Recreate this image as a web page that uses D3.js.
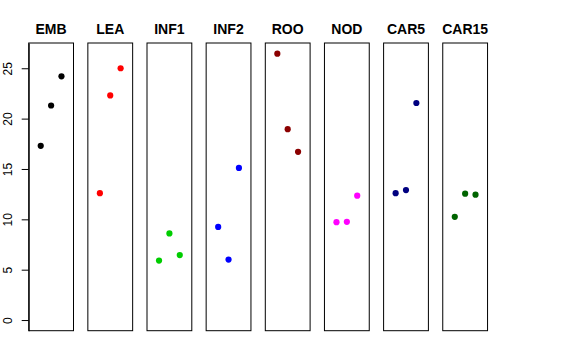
<!DOCTYPE html>
<html>
<head>
<meta charset="utf-8">
<script src="https://cdn.jsdelivr.net/npm/d3@7"></script>
<style>
html,body{margin:0;padding:0;background:#fff;}
svg{display:block;}
</style>
</head>
<body>
<svg id="chart" width="576" height="360"></svg>
<script>
const categories = ["EMB","LEA","INF1","INF2","ROO","NOD","CAR5","CAR15"];
const colors = ["#000000","#FF0000","#00CD00","#0000FF","#8B0000","#FF00FF","#000080","#006400"];
const EMB   = [17.3, 21.3, 24.2];
const LEA   = [12.6, 22.3, 25.0];
const INF1  = [5.9, 8.6, 6.45];
const INF2  = [9.25, 6.0, 15.1];
const ROO   = [26.45, 18.95, 16.7];
const NOD   = [9.72, 9.75, 12.35];
const CAR5  = [12.6, 12.9, 21.55];
const CAR15 = [10.25, 12.55, 12.45];
const seriesValues = [EMB, LEA, INF1, INF2, ROO, NOD, CAR5, CAR15];
const yTicks = [0, 5, 10, 15, 20, 25];

(function(){
const svg = d3.select("#chart");
const plotTop = 43, plotBottom = 330.7;
const panelW = 44.8, firstLeft = 28.7, step = 59.15;
const ymax = d3.max(seriesValues.flat());
const pad = ymax * 0.04;
const y = d3.scaleLinear().domain([0 - pad, ymax + pad]).range([plotBottom, plotTop]);
const x = d3.scaleLinear().domain([-0.16, 4.16]).range([0, panelW]);

categories.forEach((cat, i) => {
  const left = firstLeft + i * step;
  const g = svg.append("g").attr("transform", `translate(${left},0)`);
  g.append("rect").attr("x", 0).attr("y", plotTop).attr("width", panelW).attr("height", plotBottom - plotTop)
    .attr("fill", "none").attr("stroke", "#000").attr("stroke-width", 1);
  g.append("text").attr("x", panelW / 2).attr("y", 34.3).attr("text-anchor", "middle")
    .attr("font-family", "Liberation Sans, Arial, sans-serif").attr("font-weight", "bold")
    .attr("font-size", 14).text(cat);
  g.selectAll("circle").data(seriesValues[i]).enter().append("circle")
    .attr("cx", (d, j) => x(j + 1)).attr("cy", d => y(d)).attr("r", 3.1)
    .attr("fill", colors[i]);
});

const axisG = svg.append("g").attr("transform", `translate(${firstLeft},0)`);
const axis = d3.axisLeft(y).tickValues(yTicks).tickSize(7).tickSizeOuter(0).tickFormat(d3.format("d"));
axisG.call(axis);
axisG.select(".domain").attr("stroke", "#000");
axisG.selectAll(".tick line").attr("stroke", "#000");
axisG.selectAll(".tick text")
  .attr("font-family", "Liberation Sans, Arial, sans-serif").attr("font-size", 12).attr("fill", "#000")
  .attr("x", null)
  .attr("text-anchor", "middle")
  .attr("transform", "translate(-20.5,0) rotate(-90)")
  .attr("dy", "0.35em");
})();
</script>
</body>
</html>
